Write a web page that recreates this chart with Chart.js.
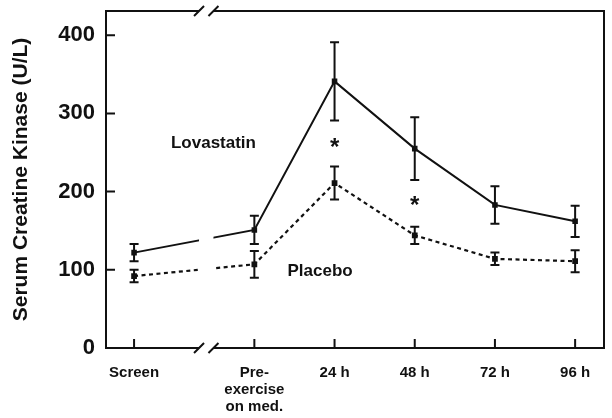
<!DOCTYPE html>
<html>
<head>
<meta charset="utf-8">
<script src="https://cdn.jsdelivr.net/npm/chart.js@4"></script>
<style>
  body { margin: 0; background: #fff; }
  canvas { display: block; }
</style>
</head>
<body>
<canvas id="ck" width="612" height="418"></canvas>
<script>
// time points (x positions on a broken linear axis, Screen sits before the break)
const categories = ['Screen', ['Pre-', 'exercise', 'on med.'], '24 h', '48 h', '72 h', '96 h'];
const catPos = [-1.5, 0, 1, 2, 3, 4];

const lovastatin = [122, 151, 341, 255, 183, 162];
const lovastatinErr = [11, 18, 50, 40, 24, 20];
const placebo = [92, 107, 211, 144, 114, 111];
const placeboErr = [8, 17, 21, 11, 8, 14];

const yTicks = [0, 100, 200, 300, 400];

// significance marks
const starPos = [1, 2];
const starVal = [262, 187];

const FONT = "'Liberation Sans', Arial, Helvetica, sans-serif";
const INK = '#111';
const BREAK = [-0.69, -0.51];

Chart.defaults.font.family = FONT;
Chart.defaults.color = INK;

const toPoints = (vals) => vals.map((v, i) => ({ x: catPos[i], y: v }));

const frame = {
  id: 'frame',
  beforeDatasetsDraw(chart) {
    const { ctx, chartArea: a, scales: { x, y } } = chart;
    ctx.save();
    ctx.strokeStyle = INK;
    ctx.lineWidth = 2;
    ctx.beginPath();
    ctx.moveTo(a.left, a.top);
    ctx.lineTo(a.right, a.top);
    ctx.lineTo(a.right, a.bottom);
    // inward ticks
    yTicks.forEach(v => {
      const py = y.getPixelForValue(v);
      ctx.moveTo(a.left, py);
      ctx.lineTo(a.left + 9, py);
    });
    catPos.forEach(v => {
      const px = x.getPixelForValue(v);
      ctx.moveTo(px, a.bottom);
      ctx.lineTo(px, a.bottom - 9);
    });
    ctx.stroke();
    ctx.restore();
  }
};

const errorBars = {
  id: 'errorBars',
  afterDatasetsDraw(chart) {
    const { ctx, chartArea: a, scales: { x, y } } = chart;
    ctx.save();
    ctx.strokeStyle = INK;
    ctx.lineWidth = 2;
    chart.data.datasets.forEach(ds => {
      ds.data.forEach((p, i) => {
        const px = x.getPixelForValue(p.x);
        const top = y.getPixelForValue(p.y + ds.err[i]);
        const bot = y.getPixelForValue(p.y - ds.err[i]);
        ctx.beginPath();
        ctx.moveTo(px, top); ctx.lineTo(px, bot);
        ctx.moveTo(px - 4.5, top); ctx.lineTo(px + 4.5, top);
        ctx.moveTo(px - 4.5, bot); ctx.lineTo(px + 4.5, bot);
        ctx.stroke();
      });
    });

    // axis break
    const b0 = x.getPixelForValue(BREAK[0]);
    const b1 = x.getPixelForValue(BREAK[1]);
    ctx.fillStyle = '#fff';
    ctx.fillRect(b0, a.top - 3, b1 - b0, a.bottom - a.top + 6);
    ctx.beginPath();
    [a.top, a.bottom].forEach(py => {
      [b0, b1].forEach(px => {
        ctx.moveTo(px - 5, py + 5);
        ctx.lineTo(px + 5, py - 5);
      });
    });
    ctx.stroke();

    // labels and asterisks
    ctx.fillStyle = INK;
    ctx.textAlign = 'center';
    ctx.textBaseline = 'middle';
    ctx.font = `bold 17px ${FONT}`;
    ctx.fillText('Lovastatin', x.getPixelForValue(-0.51), y.getPixelForValue(262));
    ctx.fillText('Placebo', x.getPixelForValue(0.82), y.getPixelForValue(98));
    ctx.font = `bold 24px ${FONT}`;
    starPos.forEach((sx, i) => {
      ctx.fillText('*', x.getPixelForValue(sx), y.getPixelForValue(starVal[i]) + 5);
    });
    ctx.restore();
  }
};

new Chart(document.getElementById('ck'), {
  type: 'line',
  data: {
    datasets: [
      {
        label: 'Lovastatin',
        data: toPoints(lovastatin),
        err: lovastatinErr,
        borderColor: INK,
        backgroundColor: INK,
        borderWidth: 2,
        pointStyle: 'rect',
        pointRadius: 2.5,
        tension: 0
      },
      {
        label: 'Placebo',
        data: toPoints(placebo),
        err: placeboErr,
        borderColor: INK,
        backgroundColor: INK,
        borderWidth: 2.2,
        borderDash: [4, 3.5],
        pointStyle: 'rect',
        pointRadius: 2.5,
        tension: 0
      }
    ]
  },
  options: {
    responsive: false,
    animation: false,
    layout: { padding: { top: 11, right: 8, left: 0, bottom: 0 } },
    plugins: {
      legend: { display: false },
      tooltip: { enabled: false }
    },
    scales: {
      x: {
        type: 'linear',
        min: -1.85,
        max: 4.36,
        afterFit: (s) => { s.height = 70; s.paddingLeft = 0; s.paddingRight = 0; },
        afterBuildTicks: (s) => { s.ticks = catPos.map(v => ({ value: v })); },
        grid: { display: false, drawTicks: false },
        border: { display: true, color: INK, width: 2 },
        ticks: {
          padding: 16,
          autoSkip: false,
          maxRotation: 0,
          font: { size: 15, weight: 'bold', lineHeight: 1.15 },
          callback: (v) => categories[catPos.indexOf(v)]
        }
      },
      y: {
        min: 0,
        max: 431,
        afterFit: (s) => { s.width = 106; s.paddingTop = 0; s.paddingBottom = 0; },
        afterBuildTicks: (s) => { s.ticks = yTicks.map(v => ({ value: v })); },
        grid: { display: false, drawTicks: false },
        border: { display: true, color: INK, width: 2 },
        ticks: {
          padding: 11,
          font: { size: 22, weight: 'bold' }
        },
        title: {
          display: true,
          text: 'Serum Creatine Kinase (U/L)',
          font: { size: 21, weight: 'bold' },
          padding: { top: 9, bottom: 0 }
        }
      }
    }
  },
  plugins: [frame, errorBars]
});
</script>
</body>
</html>
